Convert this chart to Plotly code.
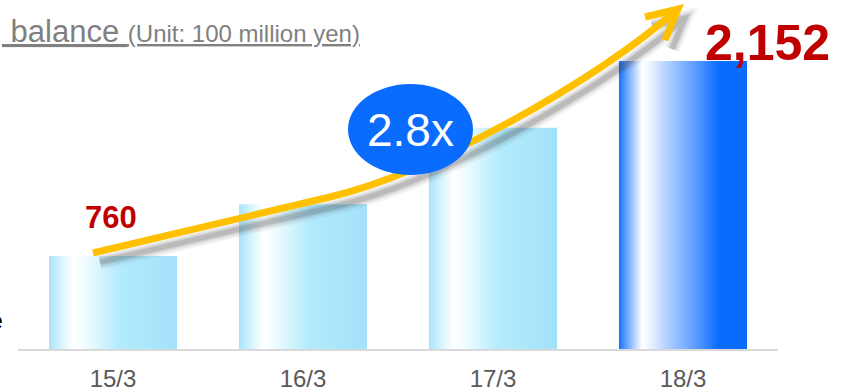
import plotly.graph_objects as go

# ---- data ----
categories = ["15/3", "16/3", "17/3", "18/3"]
balance = [760, 1130, 1675, 2152]          # 100 million yen
labelled = {0: "760", 3: "2,152"}

W, H = 850, 392
ML, MR, MT, MB = 18, 72, 0, 43
PW, PH = W - ML - MR, H - MT - MB
Y0 = 96.5                     # axis baseline value
K = 0.14009                   # px per unit
Y1 = Y0 + PH / K
BAR_W = 0.674

def dx(px):   # pixel -> data x
    return (px - ML) / PW * 4 - 0.5

def dy(py):   # pixel -> data y
    return Y0 + (MT + PH - py) / K

fig = go.Figure()

light_scale = [[0, "#a9e3fa"], [0.1, "#d8f4fd"], [0.19, "#ffffff"], [0.28, "#f0fcff"],
               [0.55, "#b3ebfc"], [1, "#a3e1fa"]]
blue_scale = [[0, "#1670ff"], [0.08, "#7fb3ff"], [0.18, "#ffffff"], [0.24, "#eef5ff"],
              [0.35, "#bcd6ff"], [0.6, "#5a9cff"], [0.78, "#0a6cff"], [1, "#0a6cff"]]

for i, (c, v) in enumerate(zip(categories, balance)):
    x0, x1 = i - BAR_W / 2, i + BAR_W / 2
    fig.add_trace(go.Scatter(
        x=[x0, x1, x1, x0, x0], y=[Y0, Y0, v, v, Y0],
        mode="lines", fill="toself", line=dict(width=0),
        fillgradient=dict(type="horizontal",
                          colorscale=blue_scale if i == 3 else light_scale,
                          start=x0, stop=x1),
        hoverinfo="skip", showlegend=False, name=c))

# ---- growth arrow (decorative) ----
def arrow_path(ox=0, oy=0):
    p = lambda x, y: f"{dx(x + ox):.4f},{dy(y + oy):.2f}"
    return (f"M {p(93,253)} L {p(330,197)} C {p(430,173.4)} {p(590,85)} {p(678,9)} "
            f"M {p(645,17)} L {p(678,9)} L {p(665,40)}")

shapes = []
for w, op in [(16, 0.05), (12, 0.08), (8, 0.12), (5, 0.15)]:
    shapes.append(dict(type="path", path=arrow_path(7, 9), xref="x", yref="y",
                       line=dict(color=f"rgba(60,60,60,{op})", width=w), layer="above"))
shapes.append(dict(type="path", path=arrow_path(), xref="x", yref="y",
                   line=dict(color="#ffc000", width=7), layer="above"))
# ratio bubble
shapes.append(dict(type="circle", xref="x", yref="y",
                   x0=dx(348), x1=dx(473), y0=dy(175), y1=dy(84),
                   fillcolor="#0a6cff", line=dict(width=0), layer="above"))

fig.update_layout(shapes=shapes)

FONT = "Liberation Sans, Arial, sans-serif"
ann = []
ann.append(dict(x=0, y=balance[0], text=f"<b>{labelled[0]}</b>", showarrow=False,
                xref="x", yref="y", yshift=39, xshift=-2,
                font=dict(family=FONT, size=31, color="#c00000")))
ann.append(dict(x=3, y=balance[3], text=f"<b>{labelled[3]}</b>", showarrow=False,
                xref="x", yref="y", yshift=18, xshift=84,
                font=dict(family=FONT, size=50, color="#c00000")))
ann.append(dict(x=dx(410), y=dy(130), xref="x", yref="y", showarrow=False,
                text=f"{balance[3] / balance[0]:.1f}x",
                font=dict(family=FONT, size=46, color="white")))
ann.append(dict(x=0, y=1, xref="paper", yref="paper", xshift=-ML, yshift=-12,
                xanchor="left", yanchor="top", showarrow=False,
                text=" balance <span style='font-size:24px'>(Unit: 100 million yen)</span>",
                font=dict(family=FONT, size=31, color="#808080", lineposition="under")))
ann.append(dict(x=0, y=0, xref="paper", yref="paper", xshift=-ML + 5, yshift=28,
                xanchor="right", yanchor="middle", showarrow=False, text="e",
                font=dict(family=FONT, size=23, color="#000000")))
fig.update_layout(annotations=ann)

fig.update_layout(
    width=W, height=H, margin=dict(l=ML, r=MR, t=MT, b=MB, autoexpand=False),
    paper_bgcolor="white", plot_bgcolor="white",
    xaxis=dict(range=[-0.5, 3.5], tickvals=list(range(4)), ticktext=categories,
               showgrid=False, zeroline=False, showline=True, linecolor="#d9d9d9",
               linewidth=2, ticks="", ticklabelstandoff=7, automargin=False,
               tickfont=dict(family=FONT, size=24, color="#595959")),
    yaxis=dict(range=[Y0, Y1], visible=False, showgrid=False, zeroline=False,
               automargin=False),
    showlegend=False,
)

fig.write_html("out.html")
